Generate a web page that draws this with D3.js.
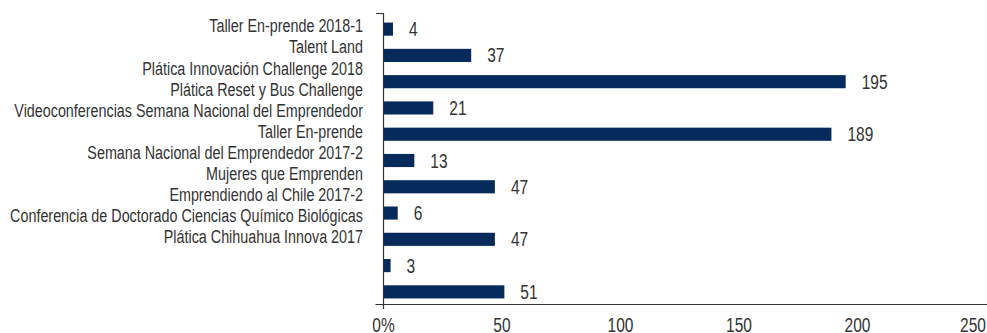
<!DOCTYPE html>
<html>
<head>
<meta charset="utf-8">
<script src="https://cdn.jsdelivr.net/npm/d3@7/dist/d3.min.js"></script>
<style>
  html, body { margin: 0; padding: 0; background: #fff; }
  svg { display: block; }
  text { font-family: "Liberation Sans", Arial, sans-serif; fill: #333; }
</style>
</head>
<body>
<svg id="chart" width="987" height="333"></svg>
<script>
// Event names, top to bottom
const categories = [
  "Taller En-prende 2018-1",
  "Talent Land",
  "Plática Innovación Challenge 2018",
  "Plática Reset y Bus Challenge",
  "Videoconferencias Semana Nacional del Emprendedor",
  "Taller En-prende",
  "Semana Nacional del Emprendedor 2017-2",
  "Mujeres que Emprenden",
  "Emprendiendo al Chile 2017-2",
  "Conferencia de Doctorado Ciencias Químico Biológicas",
  "Plática Chihuahua Innova 2017"
];

// Attendance per bar, top to bottom
const values = [4, 37, 195, 21, 189, 13, 47, 6, 47, 3, 51];

// Horizontal axis ticks
const tickValues = [0, 50, 100, 150, 200, 250];
const tickLabels = ["0%", "50", "100", "150", "200", "250"];

const W = 987, H = 333;
const svg = d3.select("#chart");
const barColor = "#062a5c";
const axisColor = "#333";
const labelRight = 363;

const x = d3.scaleLinear().domain([0, 250]).range([383.5, 976]);
const y = d3.scaleBand().domain(d3.range(values.length))
  .range([16, 305]).paddingInner(0.5).paddingOuter(0.25);

// Category names sit on their own, tighter rhythm
const yLabel = d3.scalePoint().domain(categories).range([32.3, 243.3]);

// Condensed look: measure the widest name and squeeze all text horizontally
const probe = svg.append("text").attr("font-size", 18)
  .text(categories.reduce((a, b) => (a.length > b.length ? a : b)));
const squeeze = Math.min(1, 353 / probe.node().getComputedTextLength());
probe.remove();

function place(sel, fx, fy) {
  sel.attr("transform", (d, i) => `translate(${fx(d, i)},${fy(d, i)}) scale(${squeeze},1)`);
}

// Bars
svg.append("g").selectAll("rect")
  .data(values)
  .join("rect")
  .attr("x", x(0))
  .attr("y", (d, i) => y(i))
  .attr("width", d => x(d) - x(0))
  .attr("height", y.bandwidth())
  .attr("fill", barColor);

// Value labels
svg.append("g").selectAll("text")
  .data(values)
  .join("text")
  .attr("dy", "0.36em")
  .attr("font-size", 19.5)
  .text(d => d)
  .call(place, d => x(d) + 16, (d, i) => y(i) + y.bandwidth() / 2);

// Category labels
svg.append("g").selectAll("text")
  .data(categories)
  .join("text")
  .attr("text-anchor", "end")
  .attr("font-size", 18)
  .text(d => d)
  .call(place, () => labelRight, d => yLabel(d));

// Axis lines
const axes = svg.append("g").attr("stroke", axisColor).attr("stroke-width", 1.2).attr("fill", "none");
axes.append("path").attr("d", `M${x(0) - 7.5},13.5H${x(0)}V309`);
axes.append("path").attr("d", `M${x(0) - 8},304.5H${W}`);

// Tick labels, the last one kept inside the frame
svg.append("g").selectAll("text")
  .data(tickValues)
  .join("text")
  .attr("font-size", 19.5)
  .text((d, i) => tickLabels[i])
  .each(function (d) {
    const w = this.getComputedTextLength() * squeeze;
    let left = x(d) - w / 2;
    if (left + w > W - 1) left = W - 1 - w;
    d3.select(this).attr("transform", `translate(${left},332) scale(${squeeze},1)`);
  });
</script>
</body>
</html>
